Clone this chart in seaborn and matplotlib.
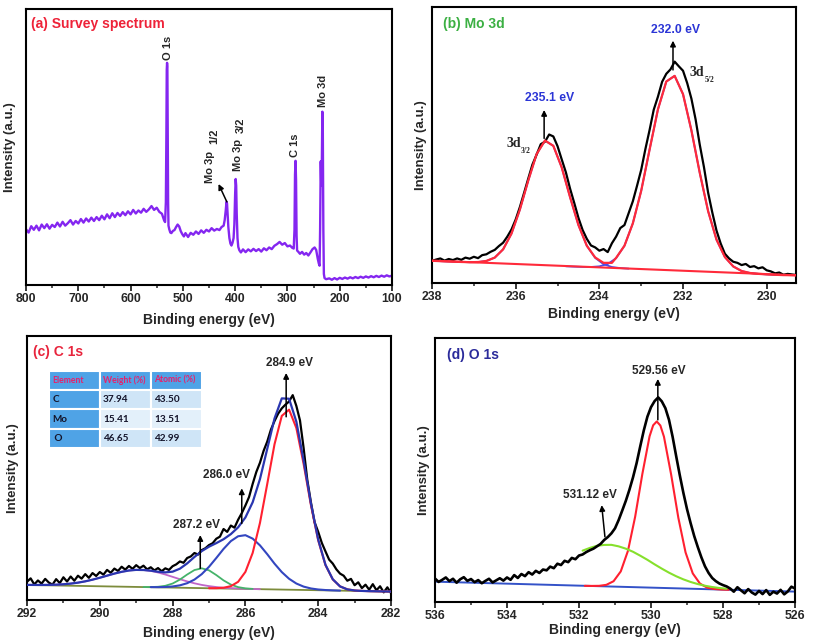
import matplotlib
matplotlib.use("Agg")
import matplotlib.pyplot as plt
from matplotlib.ticker import MultipleLocator, FormatStrFormatter
import seaborn as sns

sns.set_style("ticks")
plt.rcParams['font.family'] = ['Liberation Sans', 'DejaVu Sans']
plt.rcParams['font.weight'] = 'bold'
plt.rcParams['axes.edgecolor'] = 'black'

# ---------------- (a) survey spectrum ----------------
survey_be = [800, 795, 790, 785, 780, 775, 770, 765, 760, 755, 750, 745, 740, 735, 730, 725,
             720, 715, 710, 705, 700, 695, 690, 685, 680, 675, 670, 665, 660, 655, 650, 645,
             640, 635, 630, 625, 620, 615, 610, 605, 600, 595, 590, 585, 580, 575, 570, 565,
             560, 555, 550, 545, 540, 536, 534, 532.5, 531.5, 530.8, 530.2, 529.6, 529.0, 528.2,
             527.5, 526, 524, 522, 519, 516, 513, 510, 507, 504, 501, 498, 495, 490, 485, 480,
             475, 470, 465, 460, 455, 450, 445, 440, 435, 430, 426, 422, 420, 418, 416.5, 415.5,
             414.5, 413, 411, 409, 407, 405, 403, 401.5, 400, 399, 398, 397, 395.5, 394, 392, 389,
             385, 380, 375, 370, 365, 360, 355, 350, 345, 340, 335, 330, 325, 320, 315, 310,
             305, 300, 295, 291, 288, 286.5, 285.5, 284.5, 283.5, 282.5, 281.5, 279, 276, 272, 268, 264,
             260, 256, 252, 248, 245, 242, 240, 238.5, 237.5, 236.3, 235.3, 234.3, 233.2, 232.3, 231.3, 230.3,
             229, 226, 220, 215, 210, 205, 200, 195, 190, 185, 180, 175, 170, 165, 160, 155,
             150, 145, 140, 135, 130, 125, 120, 115, 110, 105, 100]
survey_int = [20.2, 19.0, 21.3, 20.0, 21.5, 19.8, 21.9, 20.6, 22.0, 20.4, 21.8, 21.0, 22.6, 21.2, 22.9, 21.5,
              22.4, 23.5, 21.9, 23.2, 22.3, 23.9, 22.6, 24.1, 23.0, 24.4, 23.2, 24.6, 23.5, 25.1, 23.8, 25.6,
              24.2, 26.0, 24.6, 26.1, 25.0, 26.4, 25.3, 26.7, 25.6, 27.2, 25.9, 27.0, 26.2, 27.6, 26.5, 27.4,
              28.6, 27.2, 28.0, 26.5, 25.8, 23.5, 22.8, 30.0, 55.0, 78.0, 80.5, 79.0, 55.0, 30.0,
              21.5, 20.2, 19.0, 18.8, 19.6, 19.9, 21.0, 21.9, 21.2, 19.5, 18.4, 17.6, 18.8, 17.4, 18.9, 18.2,
              19.4, 18.5, 19.8, 18.9, 20.0, 19.4, 20.6, 19.7, 20.3, 19.9, 21.0, 21.5, 23.5, 27.0, 30.2, 29.5,
              26.0, 21.0, 17.0, 15.0, 14.3, 15.3, 17.0, 22.0, 33.0, 38.4, 36.0, 26.0, 17.0, 13.8, 12.6, 11.8,
              12.9, 11.9, 12.9, 12.2, 13.1, 12.3, 13.0, 12.1, 13.3, 12.6, 13.6, 13.0, 14.2, 14.8, 15.6, 14.6,
              15.2, 14.0, 14.3, 13.5, 13.2, 20.0, 40.0, 45.0, 38.0, 18.0, 12.5, 12.0, 11.3, 12.0, 11.0, 11.6,
              10.7, 11.8, 13.0, 13.6, 12.7, 9.5, 7.8, 7.0, 20.0, 44.8, 36.0, 42.0, 62.8, 55.0, 20.0, 4.0,
              2.5, 2.1, 2.4, 1.9, 2.5, 2.0, 2.6, 2.2, 2.7, 2.3, 2.8, 2.4, 2.9, 2.5, 3.0, 2.6,
              3.1, 2.7, 3.2, 2.8, 3.3, 2.9, 3.4, 3.0, 3.5, 3.1, 3.4]

# ---------------- (b) Mo 3d ----------------
mo_x = [238.1, 238.0, 237.9, 237.8, 237.7, 237.6, 237.5, 237.4, 237.3, 237.2,
        237.1, 237.0, 236.9, 236.8, 236.7, 236.6, 236.5, 236.4, 236.3, 236.2,
        236.1, 236.0, 235.9, 235.8, 235.7, 235.6, 235.5, 235.4, 235.3, 235.2,
        235.1, 235.0, 234.9, 234.8, 234.7, 234.6, 234.5, 234.4, 234.3, 234.2,
        234.1, 234.0, 233.9, 233.8, 233.7, 233.6, 233.5, 233.4, 233.3, 233.2,
        233.1, 233.0, 232.9, 232.8, 232.7, 232.6, 232.5, 232.4, 232.3, 232.2,
        232.1, 232.0, 231.9, 231.8, 231.7, 231.6, 231.5, 231.4, 231.3, 231.2,
        231.1, 231.0, 230.9, 230.8, 230.7, 230.6, 230.5, 230.4, 230.3, 230.2,
        230.1, 230.0, 229.9, 229.8, 229.7, 229.6, 229.5, 229.4, 229.3]
mo_y = [8.6, 8.0, 8.5, 8.9, 8.1, 8.7, 8.3, 8.9, 8.4, 9.2,
        8.8, 9.5, 9.0, 10.1, 10.4, 11.3, 12.0, 13.4, 14.6, 16.8,
        19.4, 23.0, 27.5, 32.6, 37.8, 42.9, 46.5, 50.3, 51.2, 53.8,
        53.1, 49.6, 44.8, 40.1, 34.2, 29.0, 23.6, 19.2, 16.0, 13.6,
        12.9, 11.7, 12.3, 11.2, 14.4, 16.8, 19.9, 21.0, 25.3,
        29.6, 35.2, 41.0, 48.5, 55.4, 62.8, 67.5, 72.9, 75.8, 77.4,
        80.2, 78.5, 76.9, 72.4, 66.8, 59.3, 50.1, 42.0, 32.7, 25.5,
        19.0, 14.3, 10.6, 8.9, 7.7, 7.3, 6.5, 6.9, 5.8, 6.1,
        5.3, 5.7, 4.6, 4.2, 3.5, 3.8, 3.0, 3.3, 3.1, 2.9]
mo_fit_x = [238.1, 237.9, 237.7, 237.5, 237.3, 237.1, 236.9, 236.7, 236.5, 236.3,
            236.1, 235.9, 235.7, 235.5, 235.3, 235.1, 234.9, 234.7, 234.5, 234.3,
            234.1, 233.9, 233.7, 233.6, 233.4, 233.2, 233.0, 232.8, 232.6, 232.4,
            232.2, 232.0, 231.8, 231.6, 231.4, 231.2, 231.0, 230.8, 230.6, 230.4,
            230.2, 230.0, 229.8, 229.6, 229.3]
mo_env = [8.10, 7.98, 7.85, 7.73, 7.62, 7.54, 7.59, 7.99, 9.2, 12.2,
          17.9, 26.6, 37.1, 46.7, 51.6, 49.7, 41.9, 31.1, 21.0, 13.5,
          9.25, 7.3, 7.3, 9.1, 13.5, 21.6, 33.4, 48.3, 62.9, 73.0,
          75.05, 68.4, 55.3, 39.9, 26.0, 15.7, 9.4, 6.0, 4.34, 3.63,
          3.31, 3.12, 2.98, 2.86, 2.8]
mo_c1_x = [238.1, 237.9, 237.7, 237.5, 237.3, 237.1, 236.9, 236.7, 236.5, 236.3,
           236.1, 235.9, 235.7, 235.5, 235.3, 235.1, 234.9, 234.7, 234.5, 234.3,
           234.1, 233.9, 233.7, 233.5, 233.3]
mo_c1_y = [8.10, 7.98, 7.85, 7.73, 7.61, 7.54, 7.59, 7.99, 9.2, 12.2,
           17.9, 26.6, 37.1, 46.7, 51.6, 49.7, 41.9, 31.1, 21.0, 13.5,
           9.1, 6.8, 5.8, 5.4, 5.2]
mo_c2_x = [234.8, 234.6, 234.4, 234.2, 234.0, 233.8, 233.6, 233.4, 233.2, 233.0,
           232.8, 232.6, 232.4, 232.2, 232.0, 231.8, 231.6, 231.4, 231.2, 231.0,
           230.8, 230.6, 230.4, 230.2, 230.0, 229.8, 229.6]
mo_c2_y = [6.05, 5.92, 5.83, 5.81, 6.04, 6.87, 9.0, 13.5, 21.6, 33.4,
           48.3, 62.9, 73.0, 75.05, 68.4, 55.3, 39.9, 26.0, 15.7, 9.4,
           6.0, 4.34, 3.63, 3.31, 3.12, 2.98, 2.86]
mo_bg_x = [238.0, 229.3]
mo_bg_y = [8.1, 2.8]

# ---------------- (c) C 1s ----------------
c_x = [292.0, 291.9, 291.8, 291.7, 291.6, 291.5, 291.4, 291.3, 291.2, 291.1,
       291.0, 290.9, 290.8, 290.7, 290.6, 290.5, 290.4, 290.3, 290.2, 290.1,
       290.0, 289.9, 289.8, 289.7, 289.6, 289.5, 289.4, 289.3, 289.2, 289.1,
       289.0, 288.9, 288.8, 288.7, 288.6, 288.5, 288.4, 288.3, 288.2, 288.1,
       288.0, 287.9, 287.8, 287.7, 287.6, 287.5, 287.4, 287.3, 287.2, 287.1,
       287.0, 286.9, 286.8, 286.7, 286.6, 286.5, 286.4, 286.3, 286.2, 286.1,
       286.0, 285.9, 285.8, 285.7, 285.6, 285.5, 285.4, 285.3, 285.2, 285.1,
       285.0, 284.9, 284.8, 284.7, 284.6, 284.5, 284.4, 284.3, 284.2, 284.1,
       284.0, 283.9, 283.8, 283.7, 283.6, 283.5, 283.4, 283.3, 283.2, 283.1,
       283.0, 282.9, 282.8, 282.7, 282.6, 282.5, 282.4, 282.3, 282.2, 282.1,
       282.0]
c_y = [6.9, 8.2, 5.9, 7.4, 6.2, 8.0, 6.6, 5.8, 7.9, 6.4,
       8.6, 7.0, 8.9, 7.3, 9.2, 8.1, 9.8, 8.4, 10.2, 9.1,
       10.6, 9.6, 11.4, 10.3, 11.9, 11.0, 12.6, 11.5, 12.9, 11.8,
       13.2, 12.1, 13.0, 11.6, 12.4, 11.2, 12.1, 10.9, 12.0, 11.4,
       12.8, 13.5, 14.6, 14.1, 15.9, 16.5, 17.8, 17.2, 18.9, 19.6,
       20.8, 21.5, 23.2, 24.0, 26.9, 25.8, 28.2, 27.4, 30.4, 32.9,
       35.8, 39.0, 44.0, 48.5, 52.0, 56.5, 60.0, 64.5, 67.8, 70.6,
       72.6, 74.0, 75.2, 77.6, 73.5, 68.0, 57.5, 45.5, 37.0, 29.5,
       25.8, 21.6, 18.4, 15.3, 13.8, 11.6, 10.0, 9.2, 7.3, 8.0,
       5.6, 6.7, 4.5, 5.8, 3.9, 6.0, 3.7, 5.2, 2.9, 4.8,
       2.6]
c_fit_x = [292.0, 291.8, 291.6, 291.4, 291.2, 291.0, 290.8, 290.6, 290.4, 290.2,
           290.0, 289.8, 289.6, 289.4, 289.2, 289.0, 288.8, 288.6, 288.4, 288.2,
           288.0, 287.8, 287.6, 287.4, 287.2, 287.0, 286.8, 286.6, 286.4, 286.2,
           286.0, 285.8, 285.6, 285.4, 285.2, 285.0, 284.8, 284.6, 284.4, 284.2,
           284.0, 283.8, 283.6, 283.4, 283.2, 283.0, 282.8, 282.6, 282.4, 282.2,
           282.0]
c_env = [5.73, 5.70, 5.70, 5.73, 5.80, 5.96, 6.21, 6.57, 7.07, 7.70,
         8.43, 9.22, 10.00, 10.67, 11.17, 11.41, 11.36, 11.11, 10.70, 10.46,
         10.73, 11.86, 13.86, 16.30, 18.52, 20.19, 21.54, 23.02, 24.96, 27.52,
         31.26, 37.04, 45.80, 57.25, 68.76, 76.37, 76.24, 67.54, 52.77, 36.57,
         22.88, 13.33, 7.86, 5.15, 4.03, 3.60, 3.44, 3.35, 3.30, 3.25,
         3.20]
c_red_x = c_fit_x[25:]
c_red_y = [4.45, 4.48, 4.64, 5.24, 6.89, 10.65, 17.85, 29.2, 43.95, 59.0,
           69.75, 72.1, 65.15, 51.5, 35.95, 22.6, 13.21, 7.81, 5.15, 4.03,
           3.60, 3.44, 3.35, 3.30, 3.25, 3.20]
c_blue_x = c_fit_x[17:44]
c_blue_y = [4.88, 4.87, 4.93, 5.12, 5.55, 6.36, 7.73, 9.79, 12.57, 15.9,
            19.35, 22.3, 24.15, 24.55, 23.25, 20.7, 17.35, 13.76, 10.57, 8.04,
            6.24, 5.07, 4.37, 3.98, 3.77, 3.65, 3.55]
c_green_x = c_fit_x[16:32]
c_green_y = [4.90, 4.91, 5.01, 5.38, 6.24, 7.73, 9.65, 11.34, 12.0, 11.24,
             9.45, 7.43, 5.84, 4.88, 4.41, 4.21]
c_pink_x = [292.0, 291.6, 291.2] + c_fit_x[5:33]
c_pink_y = [5.73, 5.70, 5.80, 5.96, 6.21, 6.57, 7.07, 7.70, 8.43, 9.22,
            10.0, 10.67, 11.17, 11.41, 11.36, 11.02, 10.42, 9.65, 8.77, 7.88,
            7.05, 6.32, 5.72, 5.26, 4.91, 4.65, 4.48, 4.35, 4.25, 4.18,
            4.10]
c_bg_x = [292.0, 282.0]
c_bg_y = [5.7, 3.2]

table_head = ["Element", "Weight (%)", "Atomic (%)"]
table_rows = [["C", "37.94", "43.50"],
              ["Mo", "15.41", "13.51"],
              [" O", "46.65", "42.99"]]

# ---------------- (d) O 1s ----------------
d_x = [536.0, 535.9, 535.8, 535.7, 535.6, 535.5, 535.4, 535.3, 535.2, 535.1,
       535.0, 534.9, 534.8, 534.7, 534.6, 534.5, 534.4, 534.3, 534.2, 534.1,
       534.0, 533.9, 533.8, 533.7, 533.6, 533.5, 533.4, 533.3, 533.2, 533.1,
       533.0, 532.9, 532.8, 532.7, 532.6, 532.5, 532.4, 532.3, 532.2, 532.1,
       532.0, 531.9, 531.8, 531.7, 531.6, 531.5, 531.4, 531.3, 531.2, 531.1,
       531.0, 530.9, 530.8, 530.7, 530.6, 530.5, 530.4, 530.3, 530.2, 530.1,
       530.0, 529.9, 529.8, 529.7, 529.6, 529.5, 529.4, 529.3, 529.2, 529.1,
       529.0, 528.9, 528.8, 528.7, 528.6, 528.5, 528.4, 528.3, 528.2, 528.1,
       528.0, 527.9, 527.8, 527.7, 527.6, 527.5, 527.4, 527.3, 527.2, 527.1,
       527.0, 526.9, 526.8, 526.7, 526.6, 526.5, 526.4, 526.3, 526.2, 526.1,
       526.0]
d_y = [8.9, 7.6, 8.4, 9.3, 7.9, 8.8, 7.3, 8.6, 9.4, 8.0,
       8.7, 7.5, 8.3, 7.1, 8.0, 8.8, 7.4, 8.2, 9.0, 8.1,
       9.3, 8.4, 10.2, 9.1, 10.6, 9.8, 11.3, 10.4, 11.8, 11.0,
       12.3, 12.0, 13.4, 12.8, 14.5, 14.0, 15.6, 15.1, 16.7, 16.2,
       17.6, 18.0, 18.9, 19.6, 20.2, 21.1, 22.0, 23.5, 24.6, 26.0,
       27.9, 31.0, 34.6, 38.3, 42.5, 47.2, 52.6, 58.9, 65.0, 70.2,
       73.8, 76.1, 77.5, 76.0, 73.4, 69.0, 62.6, 55.2, 48.0, 41.3,
       35.2, 29.9, 25.0, 20.8, 16.9, 13.5, 11.0, 9.1, 7.9, 7.0,
       6.4, 5.9, 5.1, 3.9, 5.6, 4.4, 3.3, 4.9, 3.6, 2.8,
       4.2, 3.0, 4.5, 2.7, 3.9, 3.2, 4.6, 2.9, 4.0, 5.8,
       5.1]
d_red_x = [531.84, 531.64, 531.44, 531.24, 531.04, 530.84, 530.64, 530.44, 530.24, 530.04,
           529.94, 529.84, 529.74, 529.64, 529.44, 529.24, 529.04, 528.84, 528.64, 528.44,
           528.24, 528.04, 527.84]
d_red_y = [6.13, 6.09, 6.12, 6.50, 7.87, 11.59, 19.38, 32.31, 48.53, 62.76,
           66.94, 68.38, 66.86, 62.61, 48.23, 31.86, 18.78, 10.83, 6.97, 5.44,
           4.92, 4.73, 4.63]
d_green_x = [531.9, 531.7, 531.5, 531.3, 531.1, 530.9, 530.7, 530.5, 530.3, 530.1,
             529.9, 529.7, 529.5, 529.3, 529.1, 528.9, 528.7, 528.5, 528.3, 528.1,
             527.9]
d_green_y = [19.45, 20.48, 21.3, 21.62, 21.65, 21.08, 20.2, 19.03, 17.55, 15.98,
             14.26, 12.64, 11.11, 9.75, 8.57, 7.59, 6.79, 6.16, 5.67, 5.30,
             5.02]
d_bg_x = [536.0, 526.0]
d_bg_y = [7.7, 3.94]


def line(ax, x, y, color, lw, z=2):
    sns.lineplot(x=x, y=y, ax=ax, color=color, linewidth=lw, sort=False,
                 estimator=None, errorbar=None, legend=False, zorder=z)


def arrow(ax, x0, y0, x1, y1):
    ax.annotate('', xy=(x1, y1), xytext=(x0, y0),
                arrowprops=dict(arrowstyle='-|>', color='black', lw=1.1,
                                mutation_scale=8, shrinkA=0, shrinkB=0), zorder=6)


def style(ax, xlim, major, minor, ylab_x, xlab_y):
    ax.set_xlim(*xlim)
    ax.set_ylim(0, 100)
    ax.set_yticks([])
    ax.xaxis.set_major_locator(MultipleLocator(major))
    ax.xaxis.set_minor_locator(MultipleLocator(minor))
    ax.xaxis.set_major_formatter(FormatStrFormatter('%d'))
    ax.tick_params(axis='x', which='major', direction='out', length=4, width=1.3,
                   labelsize=8.8, pad=2)
    ax.tick_params(axis='x', which='minor', direction='out', length=2.5, width=1.1)
    for s in ax.spines.values():
        s.set_linewidth(1.5)
        s.set_color('black')
    ax.set_xlabel('Binding energy (eV)', fontsize=10, fontweight='bold')
    ax.set_ylabel('Intensity (a.u.)', fontsize=9.5, fontweight='bold')
    ax.yaxis.set_label_coords(ylab_x, 0.5)
    ax.xaxis.set_label_coords(0.5, xlab_y)


fig = plt.figure(figsize=(8.13, 6.41), dpi=100)
ax_a = fig.add_axes([26 / 813, 1 - 285 / 641, 366 / 813, 276 / 641])
ax_b = fig.add_axes([432 / 813, 1 - 283 / 641, 364 / 813, 276 / 641])
ax_c = fig.add_axes([27 / 813, 1 - 600 / 641, 364 / 813, 264 / 641])
ax_d = fig.add_axes([435 / 813, 1 - 602 / 641, 360 / 813, 264 / 641])

# (a)
line(ax_a, survey_be, survey_int, '#8426f0', 1.7)
style(ax_a, (800, 100), 100, 50, -0.026, -0.1)
ax_a.text(0.014, 0.946, '(a) Survey spectrum', transform=ax_a.transAxes, color='#ee2238',
          fontsize=10, fontweight='bold', va='center')
rot = dict(rotation=90, ha='center', va='bottom', fontsize=8, fontweight='bold')
ax_a.text(528.8, 81.5, 'O 1s', **rot)
ax_a.text(447.7, 37.1, 'Mo 3p', **rot)
ax_a.text(439.4, 51.0, '1/2', **rot)
ax_a.text(395.4, 41.4, 'Mo 3p', **rot)
ax_a.text(389.0, 55.0, '3/2', **rot)
ax_a.text(285.0, 46.5, 'C 1s', **rot)
ax_a.text(232.0, 64.4, 'Mo 3d', **rot)
arrow(ax_a, 415.8, 30.1, 431.8, 36.6)

# (b)
line(ax_b, mo_c1_x, mo_c1_y, '#4b4be8', 1.3, 2)
line(ax_b, mo_c2_x, mo_c2_y, '#4b4be8', 1.3, 2)
line(ax_b, mo_x, mo_y, 'black', 1.6, 3)
line(ax_b, mo_bg_x, mo_bg_y, '#ff2a3a', 1.5, 4)
line(ax_b, mo_fit_x, mo_env, '#ff2a3a', 1.6, 4)
style(ax_b, (238, 229.3), 2, 1, -0.015, -0.087)
ax_b.text(0.029, 0.938, '(b) Mo 3d', transform=ax_b.transAxes, color='#3cb043',
          fontsize=10, fontweight='bold', va='center')
ax_b.text(232.19, 91.7, '232.0 eV', color='#2b35d6', fontsize=8.8, fontweight='bold',
          ha='center', va='center')
ax_b.text(235.2, 66.9, '235.1 eV', color='#2b35d6', fontsize=8.8, fontweight='bold',
          ha='center', va='center')
arrow(ax_b, 232.24, 77.2, 232.24, 87.8)
arrow(ax_b, 235.32, 52.4, 235.32, 62.7)
serif = ['Liberation Serif', 'DejaVu Serif']
for x0, y0, sub in [(236.23, 50.7, '3/2'), (231.84, 76.4, '5/2')]:
    ax_b.text(x0, y0, '3d', family=serif, fontsize=10, fontweight='bold', ha='left', va='center')
    ax_b.annotate(sub, xy=(x0, y0), xytext=(10.5, -6), textcoords='offset points',
                  family=serif, fontsize=5.5, fontweight='bold', ha='left', va='center')

# (c)
line(ax_c, c_x, c_y, 'black', 1.6, 2)
line(ax_c, c_bg_x, c_bg_y, '#7d8c3c', 1.3, 3)
line(ax_c, c_pink_x, c_pink_y, '#c066c8', 1.3, 3)
line(ax_c, c_green_x, c_green_y, '#45b36a', 1.3, 3)
line(ax_c, c_blue_x, c_blue_y, '#3346c0', 1.5, 3)
line(ax_c, c_red_x, c_red_y, '#ff2030', 1.5, 4)
line(ax_c, c_fit_x, c_env, '#2a36b0', 1.6, 5)
style(ax_c, (292, 282), 2, 1, -0.021, -0.098)
ax_c.text(0.017, 0.94, '(c) C 1s', transform=ax_c.transAxes, color='#e8243c',
          fontsize=10, fontweight='bold', va='center')
for x0, y0, lab in [(284.78, 89.7, '284.9 eV'), (286.51, 47.3, '286.0 eV'), (287.34, 28.4, '287.2 eV')]:
    ax_c.text(x0, y0, lab, fontsize=8.5, fontweight='bold', ha='center', va='center')
arrow(ax_c, 284.88, 69.4, 284.88, 86.0)
arrow(ax_c, 286.1, 29.0, 286.1, 42.3)
arrow(ax_c, 287.24, 12.0, 287.24, 24.6)

cell_colours = [['#4fa3e6', '#cfe5f7', '#cfe5f7'],
                ['#4fa3e6', '#e3f0fa', '#e3f0fa'],
                ['#4fa3e6', '#cfe5f7', '#cfe5f7']]
tab = ax_c.table(cellText=table_rows, colLabels=table_head, cellColours=cell_colours,
                 colColours=['#4fa3e6'] * 3, cellLoc='left', colLoc='left',
                 bbox=[0.061, 0.575, 0.419, 0.294], zorder=7)
tab.auto_set_font_size(False)
for (r, c), cell in tab.get_celld().items():
    cell.set_edgecolor('white')
    cell.set_linewidth(1.5)
    cell.PAD = 0.06
    t = cell.get_text()
    t.set_fontsize(6.2 if r == 0 else 7.2)
    t.set_fontfamily(['Lato', 'DejaVu Sans'])
    t.set_fontweight('bold')
    t.set_color('#e8206a' if r == 0 else '#14142a')

# (d)
line(ax_d, d_bg_x, d_bg_y, '#3352c8', 1.4, 2)
line(ax_d, d_red_x, d_red_y, '#ff2030', 1.5, 3)
line(ax_d, d_green_x, d_green_y, '#86e02c', 1.5, 3)
line(ax_d, d_x, d_y, 'black', 1.9, 4)
style(ax_d, (536, 526), 2, 1, -0.015, -0.08)
ax_d.text(0.033, 0.936, '(d) O 1s', transform=ax_d.transAxes, color='#2b2b9b',
          fontsize=10, fontweight='bold', va='center')
ax_d.text(529.77, 87.6, '529.56 eV', fontsize=8.5, fontweight='bold', ha='center', va='center')
ax_d.text(531.69, 40.5, '531.12 eV', fontsize=8.5, fontweight='bold', ha='center', va='center')
arrow(ax_d, 529.81, 69.0, 529.81, 84.5)
arrow(ax_d, 531.28, 24.7, 531.37, 36.7)

fig.savefig('out.png', dpi=100)
